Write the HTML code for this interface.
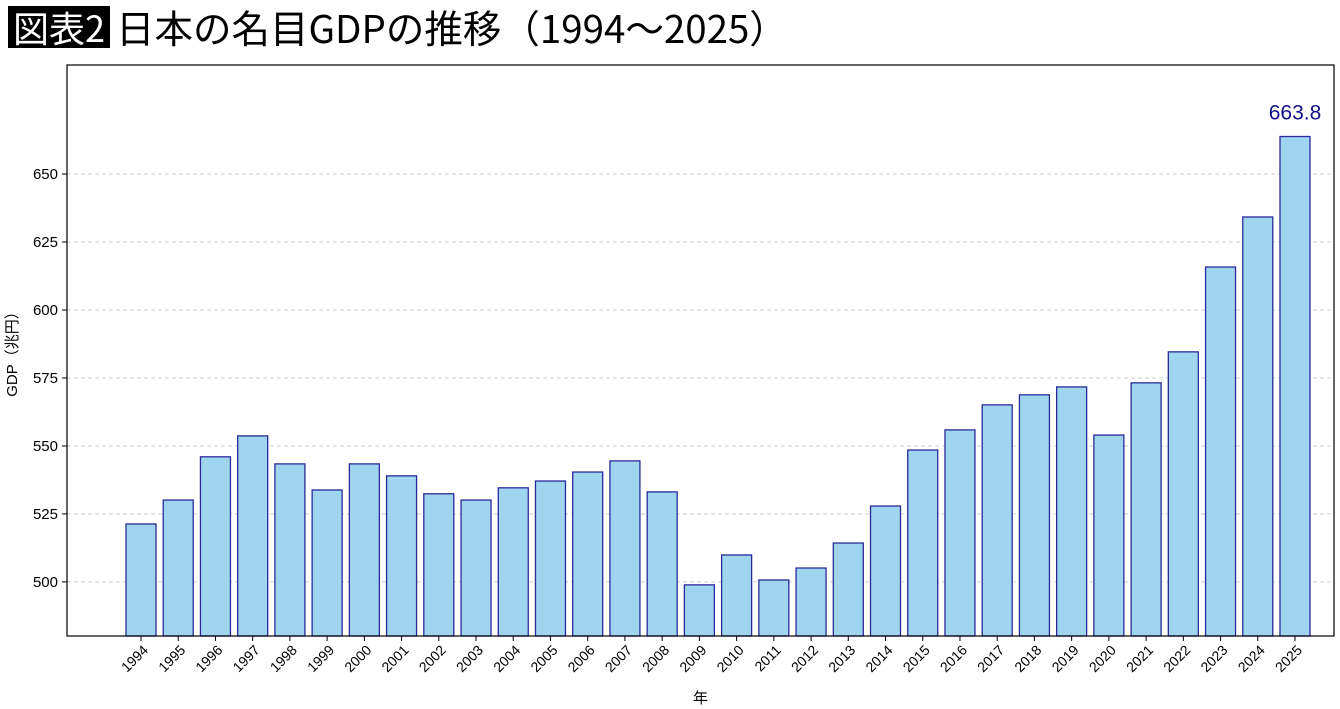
<!DOCTYPE html>
<html><head><meta charset="utf-8"><style>
body{margin:0;background:#fff;width:1340px;height:709px;overflow:hidden;font-family:"Liberation Sans","Noto Sans CJK JP",sans-serif}
#t{position:absolute;left:8px;top:6px;height:42px;display:flex;align-items:center}
#tag{background:#000;color:#fff;font-size:36px;padding:0 5px;height:42px;line-height:42px;font-family:"Noto Sans CJK JP",sans-serif}
#ti{font-size:38.5px;margin-left:6px;font-family:"Noto Sans CJK JP",sans-serif;color:#000}
svg{position:absolute;left:0;top:0}
</style></head><body>
<div id="t"><span id="tag">図表2</span><span id="ti">日本の名目GDPの推移（1994〜2025）</span></div>
<svg id="c" width="1340" height="709"></svg>
<script>
const years=[1994,1995,1996,1997,1998,1999,2000,2001,2002,2003,2004,2005,2006,2007,2008,2009,2010,2011,2012,2013,2014,2015,2016,2017,2018,2019,2020,2021,2022,2023,2024,2025];
const gdp=[521.3,530.1,546,553.7,543.4,533.8,543.4,539,532.4,530.1,534.6,537.1,540.4,544.5,533.1,498.9,509.9,500.7,505.1,514.3,527.9,548.5,555.9,565.1,568.8,571.7,554,573.2,584.6,615.8,634.2,663.8];
const yTicks=[500,525,550,575,600,625,650];
const L=67,R=1334,T=65,B=636,yMin=480.1,yMax=690.1;
const y=v=>B-(v-yMin)/(yMax-yMin)*(B-T);
const x=i=>141+i*(1295-141)/(years.length-1);
const s=document.getElementById('c');const NS='http://www.w3.org/2000/svg';
function mk(t,a,txt){const e=document.createElementNS(NS,t);for(const k in a)e.setAttribute(k,a[k]);if(txt!=null)e.textContent=txt;s.appendChild(e);return e;}
yTicks.forEach(v=>{
 const g=mk('line',{x1:L,x2:R,y1:y(v),y2:y(v),stroke:'#ccc','stroke-dasharray':'4 3'});
 
 
 mk('line',{x1:L-5,x2:L,y1:y(v),y2:y(v),stroke:'#000'});
 const t=mk('text',{x:L-9,y:y(v)+5,'text-anchor':'end','font-size':15},v);
 
 
});
years.forEach((yr,i)=>{
 const r=mk('rect',{x:x(i)-15,y:y(gdp[i]),width:30,height:B-y(gdp[i]),fill:'#a0d5f0',stroke:'#2a2a9a','stroke-width':1.3});
 
 
 mk('line',{x1:x(i),x2:x(i),y1:B,y2:B+5,stroke:'#000'});
 const t=mk('text',{x:x(i)+8,y:B+15,'text-anchor':'end','font-size':14,transform:`rotate(-45 ${x(i)+8} ${B+15})`},yr);
 
 
});
const f=mk('rect',{x:L,y:T,width:R-L,height:B-T,fill:'none',stroke:'#000','stroke-width':1.2});


const n=years.length-1;
const lab=mk('text',{x:x(n),y:y(gdp[n])-17,'text-anchor':'middle','font-size':21,fill:'#10108a'},gdp[n].toFixed(1));


const xt=mk('text',{x:(L+R)/2,y:703,'text-anchor':'middle','font-size':15},'年');


const yt=mk('text',{x:17,y:(T+B)/2,'text-anchor':'middle','font-size':15,transform:`rotate(-90 17 ${(T+B)/2})`},'GDP（兆円）');


</script>
</body></html>
